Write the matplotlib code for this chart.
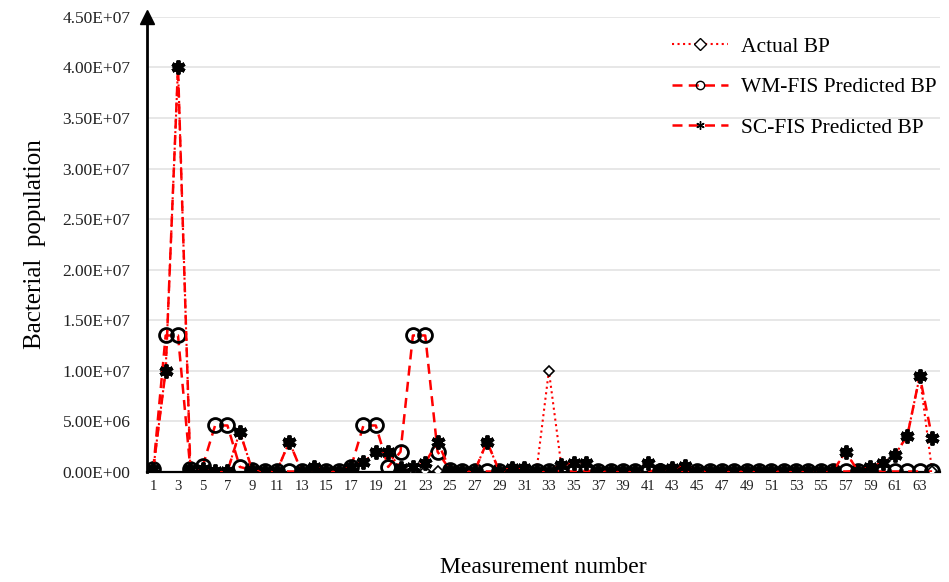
import matplotlib
matplotlib.use("Agg")
import matplotlib.pyplot as plt
import numpy as np

measurement = list(range(1, 65))

actual_bp = [3e5, 1.0e7, 4.0e7, 3e5, 3e5, 1e5, 1e5, 4.0e6, 2e5, 1e5,
             1e5, 3.0e6, 5e4, 5e5, 5e4, 5e4, 5e5, 1.0e6, 2.0e6, 2.0e6,
             4e5, 5e4, 5e4, 5e4, 2e5, 1e5, 1e5, 3.0e6, 5e4, 4e5,
             4e5, 1e5, 1.0e7, 7e5, 9e5, 9e5, 1e5, 1e5, 1e5, 1e5,
             9e5, 2e5, 4e5, 6e5, 1e5, 1e5, 1e5, 1e5, 1e5, 1e5,
             1e5, 1e5, 1e5, 1e5, 1e5, 1e5, 2.0e6, 1e5, 5e5, 9e5,
             1.7e6, 3.6e6, 9.5e6, 1e5]

wm_fis_bp = [3e5, 1.35e7, 1.35e7, 3e5, 6e5, 4.6e6, 4.6e6, 5e5, 2e5, 1e5,
             1e5, 5e4, 5e4, 5e4, 5e4, 5e4, 5e5, 4.6e6, 4.6e6, 5e5,
             2.0e6, 1.35e7, 1.35e7, 2.0e6, 2e5, 1e5, 1e5, 5e4, 5e4, 5e4,
             1e5, 1e5, 1e5, 5e4, 5e4, 1e5, 1e5, 1e5, 1e5, 1e5,
             1e5, 1e5, 1e5, 5e4, 1e5, 1e5, 1e5, 1e5, 1e5, 1e5,
             1e5, 1e5, 1e5, 1e5, 1e5, 1e5, 5e4, 1e5, 5e4, 5e4,
             5e4, 5e4, 5e4, 5e4]

sc_fis_bp = [3e5, 1.0e7, 4.0e7, 3e5, 3e5, 1e5, 5e4, 4.0e6, 2e5, 1e5,
             1e5, 3.0e6, 5e4, 5e5, 5e4, 5e4, 5e5, 1.0e6, 2.0e6, 2.0e6,
             4e5, 5e5, 9e5, 3.0e6, 2e5, 1e5, 1e5, 3.0e6, 5e4, 4e5,
             4e5, 1e5, 1e5, 7e5, 9e5, 9e5, 1e5, 1e5, 1e5, 1e5,
             9e5, 2e5, 4e5, 6e5, 1e5, 1e5, 1e5, 1e5, 1e5, 1e5,
             1e5, 1e5, 1e5, 1e5, 1e5, 1e5, 2.0e6, 1e5, 5e5, 9e5,
             1.7e6, 3.6e6, 9.5e6, 3.4e6]

y_ticks = [0, 5e6, 1e7, 1.5e7, 2e7, 2.5e7, 3e7, 3.5e7, 4e7, 4.5e7]
y_tick_labels = ["0.00E+00", "5.00E+06", "1.00E+07", "1.50E+07", "2.00E+07",
                 "2.50E+07", "3.00E+07", "3.50E+07", "4.00E+07", "4.50E+07"]
x_ticks = list(range(1, 65, 2))

plt.rcParams['font.family'] = ['Liberation Serif', 'DejaVu Serif']

fig = plt.figure(figsize=(9.49, 5.82), dpi=100)
ax = fig.add_axes([0.155, 0.189, 0.835, 0.782])

ax.plot(measurement, actual_bp, color='red', linestyle=':', linewidth=1.5,
        marker='D', markersize=5, markerfacecolor='white', markeredgecolor='black',
        markeredgewidth=1.2, label='Actual BP', zorder=3)
ax.plot(measurement, wm_fis_bp, color='red', linestyle=(0, (4, 2.5)), linewidth=1.8,
        marker='o', markersize=10, markerfacecolor='none', markeredgecolor='black',
        markeredgewidth=2.0, label='WM-FIS Predicted BP', zorder=4)
ax.plot(measurement, sc_fis_bp, color='red', linestyle=(0, (4, 2.5)), linewidth=1.8,
        marker=(6, 2, 0), markersize=10, markeredgecolor='black',
        markeredgewidth=2.8, label='SC-FIS Predicted BP', zorder=5)

ax.set_xlim(0.5, 64.6)
ax.set_ylim(0, 4.5e7)
ax.set_yticks(y_ticks)
ax.set_yticklabels(y_tick_labels)
ax.set_xticks(x_ticks)
ax.set_xticklabels([str(v) for v in x_ticks])
ax.tick_params(axis='y', length=0, labelsize=12.5, pad=12, colors='#222222')
ax.tick_params(axis='x', length=0, labelsize=10.5, pad=6, colors='#222222')

ax.grid(axis='y', color='#e3e3e3', linewidth=1.2)
ax.set_axisbelow(True)
for s in ['top', 'right']:
    ax.spines[s].set_visible(False)
ax.spines['left'].set_linewidth(2)
ax.spines['left'].set_color('black')
ax.spines['bottom'].set_linewidth(1.6)
ax.spines['bottom'].set_color('black')

# arrow at top of y axis
ax.plot([0.5], [4.5e7], marker='^', color='black', markersize=10, clip_on=False, zorder=6)

ax.set_ylabel('Bacterial  population', fontsize=18, labelpad=12)
ax.set_xlabel('Measurement number', fontsize=17, labelpad=46)

leg = ax.legend(loc='upper right', bbox_to_anchor=(1.015, 0.99), frameon=False,
                fontsize=15.5, handlelength=2.6, labelspacing=0.95, borderaxespad=0.3,
                handletextpad=0.6)
for h in leg.legend_handles:
    h.set_markersize(6)
    h.set_markeredgewidth(1.0)

fig.savefig('out.png', dpi=100)
